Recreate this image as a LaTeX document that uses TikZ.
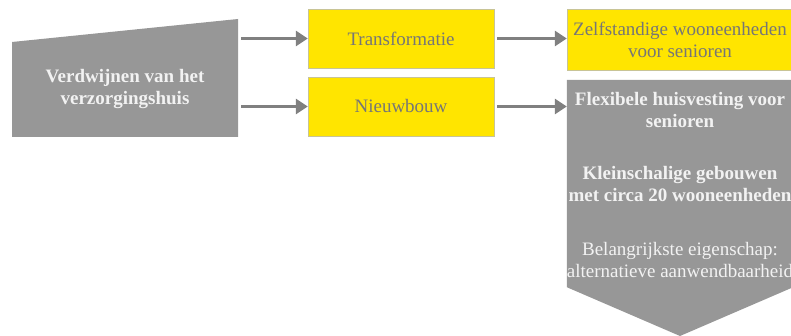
\documentclass[tikz,border=0pt]{standalone}
\usepackage{fontspec}
\setmainfont{Liberation Serif}
\usetikzlibrary{arrows.meta}
\definecolor{geel}{RGB}{255,229,0}
\definecolor{geelrand}{RGB}{200,196,150}
\definecolor{grijs}{RGB}{151,151,151}
\definecolor{pijlgrijs}{RGB}{128,128,128}
\definecolor{tekstgrijs}{RGB}{118,118,118}
\definecolor{wit}{RGB}{242,242,242}

\begin{document}
\begin{tikzpicture}[x=1pt,y=-1pt,font=\fontsize{19}{22}\selectfont,vak/.style={draw=geelrand,fill=geel,text=tekstgrijs,align=center,inner sep=0pt,minimum width=186pt,minimum height=59pt},blok/.style={text=wit,align=center,inner sep=0pt},pijl/.style={draw=pijlgrijs,line width=3pt,-{Triangle[length=12pt,width=15pt]}}]
\useasboundingbox (0,0) rectangle (791,336);
\def\gap{3pt};

% linker blok
\fill[grijs] (12,42) -- (238,19) -- (238,137) -- (12,137) -- cycle;
\node[blok,minimum width=226pt,minimum height=95pt] (verdw) at (125,89.5) {\textbf{Verdwijnen van het}\\\textbf{verzorgingshuis}};

% middelste kolom
\node[vak] (trans) at (401,38.5) {Transformatie};
\node[vak] (nieuw) at (401,106.5) {Nieuwbouw};

% rechter kolom
\node[vak,minimum width=226pt,minimum height=61pt] (zelf) at (680,39.5) {Zelfstandige wooneenheden\\voor senioren};
\node[minimum width=226pt,minimum height=207pt,inner sep=0pt] (flexvak) at (680,183.5) {};
\fill[grijs] (flexvak.north west) -- (flexvak.north east) -- (flexvak.south east) -- (680,336) -- (flexvak.south west) -- cycle;
\node[blok] (flex) at (680,110) {\textbf{Flexibele huisvesting voor}\\\textbf{senioren}};
\node[blok] (klein) at (680,184) {\textbf{Kleinschalige gebouwen}\\\textbf{met circa 20 wooneenheden}};
\node[blok] (eigen) at (680,260) {Belangrijkste eigenschap:\\alternatieve aanwendbaarheid};

% pijlen
\draw[pijl] ([xshift=\gap]verdw.east |- trans.west) -- (trans.west);
\draw[pijl] ([xshift=\gap]verdw.east |- nieuw.west) -- (nieuw.west);
\draw[pijl] ([xshift=\gap]trans.east) -- (zelf.west |- trans.east);
\draw[pijl] ([xshift=\gap]nieuw.east) -- (flexvak.west |- nieuw.east);
\end{tikzpicture}
\end{document}
